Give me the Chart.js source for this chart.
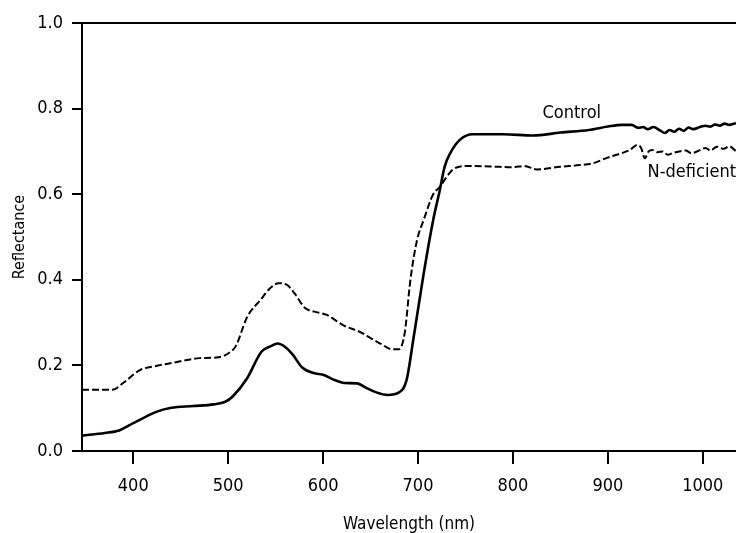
<!DOCTYPE html>
<html>
<head>
<meta charset="utf-8">
<script src="https://cdn.jsdelivr.net/npm/chart.js@4"></script>
<style>
  html, body { margin: 0; padding: 0; background: #fff; }
  #wrap { width: 736px; height: 533px; }
</style>
</head>
<body>
<div id="wrap"><canvas id="chart"></canvas></div>
<script>
// wavelength (nm) and reflectance
const ctrlNm = [346, 370, 385, 400, 425, 440, 463, 485, 497, 505, 520, 535, 545, 552, 560, 568, 578, 590, 600, 612, 622, 636, 645, 656, 668, 680, 688, 695, 706, 716, 723, 728, 734, 744, 758, 790, 821, 850, 880, 900, 915, 925, 932, 937, 942, 948, 955, 960, 965, 970, 975, 980, 985, 990, 997, 1003, 1008, 1013, 1018, 1023, 1028, 1035];
const ctrlRefl = [0.036, 0.042, 0.048, 0.065, 0.092, 0.101, 0.105, 0.109, 0.115, 0.128, 0.170, 0.232, 0.245, 0.251, 0.243, 0.225, 0.195, 0.182, 0.178, 0.166, 0.159, 0.158, 0.148, 0.137, 0.131, 0.137, 0.166, 0.26, 0.415, 0.54, 0.61, 0.664, 0.696, 0.727, 0.740, 0.740, 0.737, 0.744, 0.750, 0.758, 0.762, 0.762, 0.755, 0.757, 0.752, 0.757, 0.749, 0.743, 0.750, 0.746, 0.753, 0.748, 0.756, 0.752, 0.757, 0.760, 0.758, 0.763, 0.760, 0.765, 0.762, 0.766];

const ndefNm = [346, 378, 390, 407, 425, 439, 455, 470, 490, 502, 508, 520, 534, 545, 553, 562, 570, 581, 592, 604, 621, 639, 650, 662, 672, 680, 686, 692, 699, 706, 716, 723, 730, 737, 751, 786, 800, 812, 825, 850, 870, 884, 899, 912, 923, 931, 935, 939, 943, 947, 952, 958, 963, 968, 975, 982, 988, 997, 1003, 1008, 1015, 1022, 1028, 1035];
const ndefRefl = [0.143, 0.143, 0.160, 0.189, 0.199, 0.205, 0.212, 0.217, 0.219, 0.231, 0.245, 0.313, 0.353, 0.382, 0.392, 0.388, 0.368, 0.334, 0.325, 0.318, 0.294, 0.278, 0.264, 0.249, 0.238, 0.238, 0.276, 0.40, 0.493, 0.54, 0.60, 0.617, 0.64, 0.658, 0.666, 0.664, 0.663, 0.666, 0.658, 0.664, 0.668, 0.672, 0.685, 0.694, 0.703, 0.715, 0.708, 0.684, 0.700, 0.703, 0.698, 0.700, 0.692, 0.696, 0.700, 0.702, 0.696, 0.703, 0.708, 0.702, 0.711, 0.706, 0.712, 0.700];

const xTicks = [400, 500, 600, 700, 800, 900, 1000];
const yTicks = [0, 0.2, 0.4, 0.6, 0.8, 1.0];

const FONT = "'Liberation Sans Narrow', 'DejaVu Sans Condensed', 'Arial Narrow', sans-serif";

const toPoints = (xs, ys) => xs.map((x, i) => ({ x: x, y: ys[i] }));

// top frame line + curve labels
const extras = {
  id: 'extras',
  afterDraw(chart) {
    const { ctx, chartArea, scales } = chart;
    ctx.save();
    ctx.strokeStyle = '#000';
    ctx.lineWidth = 2;
    ctx.beginPath();
    ctx.moveTo(chartArea.left, chartArea.top);
    ctx.lineTo(chartArea.right, chartArea.top);
    ctx.stroke();

    ctx.fillStyle = '#000';
    ctx.font = '18px ' + FONT;
    ctx.textAlign = 'center';
    ctx.textBaseline = 'middle';
    ctx.fillText('Control', scales.x.getPixelForValue(862), scales.y.getPixelForValue(0.79));
    ctx.textAlign = 'right';
    ctx.fillText('N-deficient', chartArea.right, scales.y.getPixelForValue(0.65));
    ctx.restore();
  }
};

new Chart(document.getElementById('chart'), {
  type: 'line',
  data: {
    datasets: [
      {
        label: 'Control',
        data: toPoints(ctrlNm, ctrlRefl),
        borderColor: '#000',
        borderWidth: 2.6,
        pointRadius: 0,
        cubicInterpolationMode: 'monotone',
        fill: false
      },
      {
        label: 'N-deficient',
        data: toPoints(ndefNm, ndefRefl),
        borderColor: '#000',
        borderWidth: 2,
        borderDash: [7, 3],
        pointRadius: 0,
        cubicInterpolationMode: 'monotone',
        fill: false
      }
    ]
  },
  options: {
    responsive: true,
    maintainAspectRatio: false,
    animation: false,
    layout: { padding: { top: 23, right: 0, left: 0, bottom: 0 } },
    plugins: {
      legend: { display: false },
      tooltip: { enabled: false }
    },
    scales: {
      x: {
        type: 'linear',
        min: 346,
        max: 1035,
        afterBuildTicks: (s) => { s.ticks = xTicks.map(v => ({ value: v })); },
        afterFit: (s) => { s.height = 82; },
        border: { display: true, color: '#000', width: 2 },
        grid: { drawOnChartArea: false, color: '#000', tickLength: 13, lineWidth: 2 },
        ticks: {
          color: '#000',
          padding: 12,
          maxRotation: 0,
          font: { family: FONT, size: 18 },
          callback: (v) => String(v)
        },
        title: {
          display: true,
          text: 'Wavelength (nm)',
          color: '#000',
          padding: { top: 0, bottom: 0 },
          font: { family: FONT, size: 17, lineHeight: 1 }
        }
      },
      y: {
        min: 0,
        max: 1,
        afterBuildTicks: (s) => { s.ticks = yTicks.map(v => ({ value: v })); },
        afterFit: (s) => { s.width = 82; },
        border: { display: true, color: '#000', width: 2 },
        grid: { drawOnChartArea: false, color: '#000', tickLength: 10, lineWidth: 2 },
        ticks: {
          color: '#000',
          padding: 9,
          font: { family: FONT, size: 18 },
          callback: (v) => v.toFixed(1)
        },
        title: {
          display: true,
          text: 'Reflectance',
          color: '#000',
          padding: { top: 12, bottom: 0 },
          font: { family: FONT, size: 16, lineHeight: 1 }
        }
      }
    }
  },
  plugins: [extras]
});
</script>
</body>
</html>
